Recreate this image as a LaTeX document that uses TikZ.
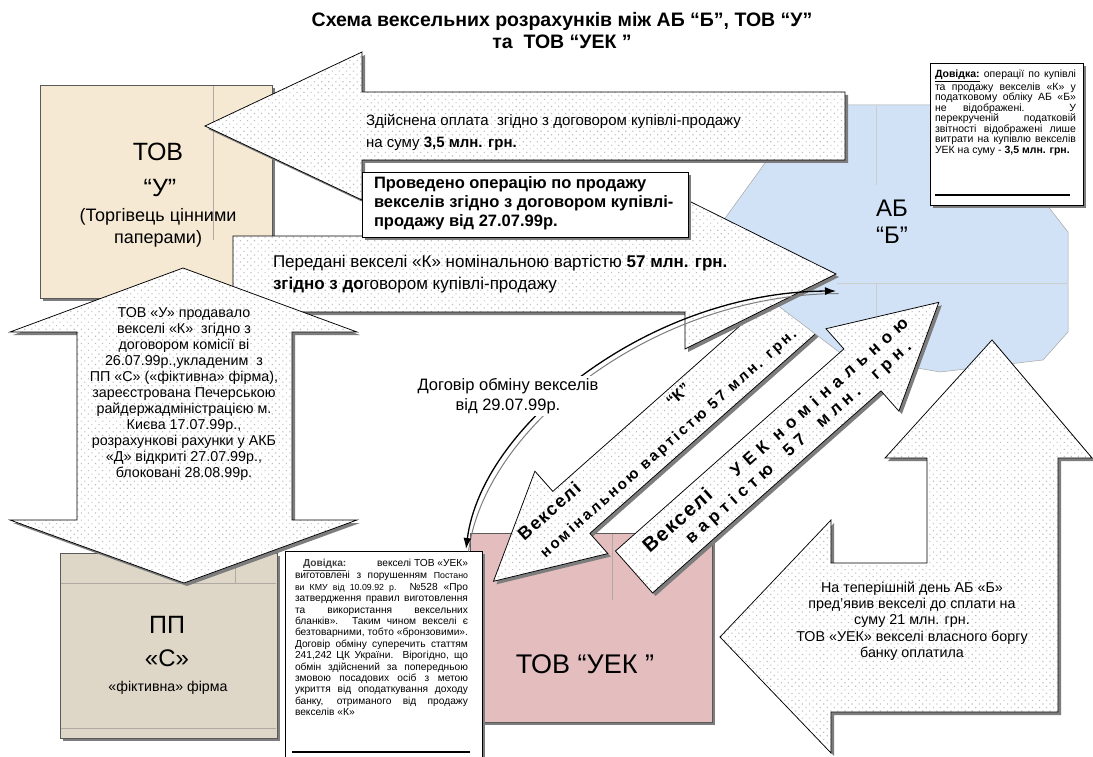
\documentclass[tikz,border=0pt]{standalone}
\usepackage{fontspec}
\setmainfont{Liberation Sans}
\usetikzlibrary{arrows.meta,patterns.meta}

\definecolor{tovucol}{RGB}{245,233,211}
\definecolor{ppccol}{RGB}{222,214,199}
\definecolor{uekcol}{RGB}{228,189,191}
\definecolor{abcol}{RGB}{209,226,246}
\definecolor{dotcol}{RGB}{190,190,190}
\definecolor{shadecol}{RGB}{125,125,125}
\definecolor{seamcol}{RGB}{175,170,165}

\tikzset{
  every node/.style={inner sep=0pt, outer sep=0pt},
  castshadow/.style={preaction={fill=shadecol, transform canvas={shift={(3pt,-3pt)}}}},
  blockarrow/.style={castshadow, preaction={fill=white},
     pattern={Dots[distance=5pt,radius=0.8pt,angle=45]}, pattern color=dotcol,
     draw=black, line width=0.75pt, line join=miter},
  partybox/.style={castshadow, fill=#1, draw=black!65, line width=0.6pt},
  notebox/.style={castshadow, fill=white, draw=black, line width=0.7pt},
  seam/.style={draw=seamcol, line width=0.6pt},
  bigname/.style={font=\fontsize{25}{28}\selectfont},
}

% corner points of a straight block arrow:
% #1 name, (#2,#3) centre of the tail, #4 direction, #5 length,
% #6 half shaft width, #7 half head width, #8 head length
\newcommand\arrowcorners[8]{%
  \begin{scope}[shift={(#2,#3)},rotate=#4]
    \coordinate (#1a) at (0,#6);
    \coordinate (#1b) at (#5-#8,#6);
    \coordinate (#1c) at (#5-#8,#7);
    \coordinate (#1d) at (#5,0);
    \coordinate (#1e) at (#5-#8,-#7);
    \coordinate (#1f) at (#5-#8,-#6);
    \coordinate (#1g) at (0,-#6);
  \end{scope}}
\newcommand\drawblockarrow[1]{%
  \path[blockarrow] (#1a) -- (#1b) -- (#1c) -- (#1d) -- (#1e) -- (#1f) -- (#1g) -- cycle;}

\begin{document}
\begin{tikzpicture}[x=1pt,y=-1pt]
\useasboundingbox (0,0) rectangle (1093,757);
\fill[white] (0,0) rectangle (1093,757);

% title
\node[font=\bfseries\fontsize{19.5}{22}\selectfont, align=center] (title) at (562,31)
  {Схема вексельних розрахунків між АБ “Б”, ТОВ “У”\\та~ ТОВ “УЕК ”};

% parties
\node[partybox=tovucol, minimum width=232pt, minimum height=213pt, anchor=north west] (tovu) at (40,85) {};
\draw[seam] (213,86) -- (213,240);
\node[bigname] (tovuA) at (158,152) {ТОВ};
\node[bigname] (tovuB) at (160,188) {“У”};
\node[font=\fontsize{18}{22}\selectfont, align=center] (tovuC) at (158,228) {(Торгівець цінними\\паперами)};

\node[partybox=ppccol, minimum width=217pt, minimum height=185pt, anchor=north west] (ppc) at (60,553) {};
\draw[seam] (61,583) -- (276,583);
\draw[seam] (61,728) -- (276,728);
\draw[seam] (235,554) -- (235,583);
\node[bigname] (ppcA) at (167,625) {ПП};
\node[font=\fontsize{24}{28}\selectfont] (ppcB) at (167,658) {«С»};
\node[font=\fontsize{14.2}{16}\selectfont] (ppcC) at (168,688) {«фіктивна» фірма};

\node[partybox=uekcol, minimum width=242pt, minimum height=189pt, anchor=north west] (uek) at (470,533) {};
\draw[seam] (612,534) -- (612,600);
\node[font=\fontsize{27}{30}\selectfont] (uekA) at (585,664) {ТОВ “УЕК ”};

% bills "K" going to TOV "UEK"
\arrowcorners{k}{808}{303}{221.5}{420}{28}{55}{104}
\drawblockarrow{k}
\node[rotate=41.5, font=\bfseries\fontsize{18}{20}\selectfont\addfontfeatures{LetterSpace=8}] (kA) at (549,511) {Векселі};
\node[rotate=41.5, font=\bfseries\fontsize{16}{18}\selectfont] (kB) at (678,395) {“К”};
\node[rotate=41.5, font=\bfseries\fontsize{15}{17}\selectfont\addfontfeatures{LetterSpace=17}] (kC) at (669,444) {номінальною вартістю 57 млн. грн.};

% bank AB "B"
\path[fill=abcol, draw=black!35, line width=0.5pt] (807,105) -- (1000,105) -- (1047,205) -- (1068,232) -- (1068,332) -- (1043,360) -- (940,372) -- (843,355) -- (760,292) -- (718,228) -- cycle;
\draw[seam, draw=black!20] (876,106) -- (876,185);
\draw[seam, draw=black!20] (876,283) -- (876,345);
\draw[seam, draw=black!20] (837,283) -- (1067,283);
\node[font=\fontsize{24}{27}\selectfont, align=center] (abname) at (892,222) {АБ\\“Б”};

% bills passed to the bank
\arrowcorners{b}{233}{274}{0}{603}{38}{75}{151}
\drawblockarrow{b}
\node[anchor=west, font=\fontsize{17}{22}\selectfont, align=left] (btext) at (273,274)
  {Передані векселі «К» номінальною вартістю \textbf{57 млн. грн.}\\\textbf{згідно з до}говором купівлі-продажу};

% payment
\arrowcorners{p}{845}{126}{180}{640}{34}{74}{157}
\drawblockarrow{p}
\node[anchor=west, font=\fontsize{15}{22}\selectfont, align=left] (ptext) at (366,132)
  {Здійснена оплата~ згідно з договором купівлі-продажу\\на суму \textbf{3,5 млн. грн.}};

\node[notebox, minimum width=326pt, minimum height=65pt, anchor=north west] (sold) at (362,172) {};
\node[anchor=north west, font=\bfseries\fontsize{16.5}{19}\selectfont, align=left] (soldtext) at (374,177)
  {Проведено операцію по продажу\\векселів згідно з договором купівлі-\\продажу від 27.07.99р.};

% commission agreement (up and down)
\path[blockarrow] (183,268) -- (357,332) -- (292,332) -- (292,520) -- (357,520) -- (184,583) -- (10,520) -- (77,520) -- (77,332) -- (10,332) -- cycle;
\node[font=\fontsize{14.3}{16}\selectfont, align=center] (vtext) at (184,394)
  {ТОВ «У» продавало\\векселі «К»~ згідно з\\договором комісії ві\\26.07.99р.,укладеним~ з\\ПП «С» («фіктивна» фірма),\\зареєстрована Печерською\\райдержадміністрацією м.\\Києва 17.07.99р.,\\розрахункові рахунки у АКБ\\«Д» відкриті 27.07.99р.,\\блоковані 28.08.99р.};

% bills UEK going to the bank
\arrowcorners{u}{634}{572}{41.5}{407}{28}{55}{102}
\drawblockarrow{u}
\node[rotate=41.5, font=\bfseries\fontsize{20}{22}\selectfont\addfontfeatures{LetterSpace=8}] (uA) at (677,520) {Векселі};
\node[rotate=41.5, font=\bfseries\fontsize{17}{19}\selectfont\addfontfeatures{LetterSpace=36}] (uB) at (819,397) {УЕК номінальною};
\node[rotate=41.5, font=\bfseries\fontsize{17}{19}\selectfont\addfontfeatures{LetterSpace=30}] (uC) at (799,443)
  {вартістю\ \ 57\ \ млн.\ \ грн.};

% redemption
\path[blockarrow] (992,340) -- (1092,458) -- (1058,458) -- (1058,712) -- (831,712) -- (831,753) -- (720,637) -- (831,520) -- (831,563) -- (927,563) -- (927,458) -- (885,458) -- cycle;
\node[font=\fontsize{14.3}{16.3}\selectfont, align=center] (rtext) at (912,621)
  {На теперішній день АБ «Б»\\пред’явив векселі до сплати на\\суму 21 млн. грн.\\ТОВ «УЕК» векселі власного боргу\\банку оплатила};

% note on the bank
\node[notebox, minimum width=153pt, minimum height=142pt, anchor=north west] (noteA) at (930,63) {};
\draw[line width=1.8pt] ([xshift=5pt,yshift=10pt]noteA.south west) -- ([xshift=-13pt,yshift=10pt]noteA.south east);
\node[anchor=north west, align=left, font=\fontsize{10.5}{10.5}\selectfont] (noteAtext) at (935,70)
  {\makebox[141pt][s]{\underline{\textbf{Довідка:}} операції по купівлі}\\
   \makebox[141pt][s]{та продажу векселів «К» у}\\
   \makebox[141pt][s]{податковому обліку АБ «Б»}\\
   \makebox[141pt][s]{не відображені. У}\\
   \makebox[141pt][s]{перекрученій податковій}\\
   \makebox[141pt][s]{звітності відображені лише}\\
   \makebox[141pt][s]{витрати на купівлю векселів}\\
   УЕК на суму - \textbf{3,5 млн. грн.}};

% note on the exchange
\node[notebox, minimum width=197pt, minimum height=215pt, anchor=north west] (noteB) at (285,551) {};
\draw[line width=1.8pt] ([xshift=7pt,yshift=14pt]noteB.south west) -- ([xshift=-12pt,yshift=14pt]noteB.south east);
\node[anchor=north west, align=left, font=\fontsize{10.2}{11.4}\selectfont] (noteBtext) at (295,559)
  {\makebox[173pt][s]{\hspace*{8pt}\textcolor{black!75}{\underline{\textbf{Довідка:}}}\hfill векселі ТОВ «УЕК»}\\
   \makebox[173pt][s]{виготовлені з порушенням {\fontsize{8.8}{10}\selectfont Постано}}\\
   \makebox[173pt][s]{{\fontsize{8.8}{10}\selectfont ви КМУ від 10.09.92 р.} №528 «Про}\\
   \makebox[173pt][s]{затвердження правил виготовлення}\\
   \makebox[173pt][s]{та використання вексельних}\\
   \makebox[173pt][s]{бланків». Таким чином векселі є}\\
   \makebox[173pt][s]{безтоварними, тобто «бронзовими».}\\
   \makebox[173pt][s]{Договір обміну суперечить статтям}\\
   \makebox[173pt][s]{241,242 ЦК України. Вірогідно, що}\\
   \makebox[173pt][s]{обмін здійснений за попередньою}\\
   \makebox[173pt][s]{змовою посадових осіб з метою}\\
   \makebox[173pt][s]{укриття від оподаткування доходу}\\
   \makebox[173pt][s]{банку, отриманого від продажу}\\
   векселів «К»};

% exchange agreement connector
\coordinate (dealfrom) at (836,291);
\coordinate (dealto) at (466,549);
\draw[shadecol, line width=1pt, transform canvas={shift={(2.5pt,-2.5pt)}}]
  (dealto) .. controls (482,425) and (650,292) .. (dealfrom);
\draw[black, line width=1.3pt, {Latex[length=11pt,width=8pt]}-{Latex[length=11pt,width=8pt]}]
  (dealto) .. controls (482,425) and (650,292) .. (dealfrom);
\node[fill=white, inner sep=2pt, font=\fontsize{16.5}{20}\selectfont, align=center] (deal) at (508,396)
  {Договір обміну векселів\\від 29.07.99р.};

\end{tikzpicture}
\end{document}
